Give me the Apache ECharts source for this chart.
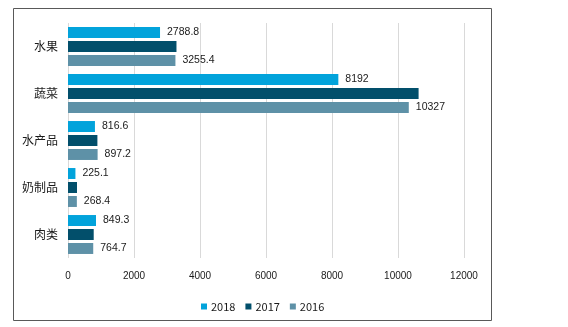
<!DOCTYPE html>
<html>
<head>
<meta charset="utf-8">
<script src="https://cdn.jsdelivr.net/npm/echarts@6/dist/echarts.min.js"></script>
<style>
  html, body { margin: 0; padding: 0; background: #fff; }
  #chart { width: 568px; height: 327px; }
</style>
</head>
<body>
<div id="chart"></div>
<script>
// Categories, top to bottom
const categories = ['水果', '蔬菜', '水产品', '奶制品', '肉类'];
// Yearly values per category
const values2018 = [2788.8, 8192, 816.6, 225.1, 849.3];
const values2017 = [3287, 10624, 891, 273, 779];
const values2016 = [3255.4, 10327, 897.2, 268.4, 764.7];
const seriesNames = ['2018', '2017', '2016'];
const xTicks = { min: 0, max: 12000, interval: 2000 };

const colors = ['#02A3DB', '#024F6B', '#5E91A7'];

const labelStyle = {
  show: true,
  position: 'right',
  distance: 7,
  color: '#1a1a1a',
  fontSize: 10.5,
  fontFamily: 'Liberation Sans'
};

const chart = echarts.init(document.getElementById('chart'), null, { renderer: 'canvas' });
chart.setOption({
  animation: false,
  backgroundColor: '#fff',
  color: colors,
  graphic: [{
    type: 'rect',
    shape: { x: 13.5, y: 8.5, width: 478, height: 312 },
    style: { fill: 'none', stroke: '#595959', lineWidth: 1 },
    silent: true,
    z: -1
  }],
  grid: { left: 68, right: 104, top: 23, bottom: 69, containLabel: false },
  legend: {
    data: seriesNames,
    left: 196,
    top: 296,
    icon: 'rect',
    itemWidth: 6,
    itemHeight: 6,
    itemGap: 10,
    textStyle: { color: '#1a1a1a', fontSize: 11, fontFamily: 'Noto Sans CJK SC', padding: [0, 0, 0, -1] }
  },
  xAxis: {
    type: 'value',
    min: xTicks.min,
    max: xTicks.max,
    interval: xTicks.interval,
    axisLine: { show: false },
    axisTick: { show: false },
    axisLabel: {
      color: '#1a1a1a', fontSize: 10, fontFamily: 'Liberation Sans', margin: 13,
      formatter: v => String(v)
    },
    splitLine: { show: true, lineStyle: { color: '#d9d9d9', width: 1 } }
  },
  yAxis: {
    type: 'category',
    data: categories,
    inverse: true,
    axisLine: { show: false },
    axisTick: { show: false },
    axisLabel: { color: '#1a1a1a', fontSize: 12, fontFamily: 'Noto Sans CJK SC', margin: 10 }
  },
  series: [
    { name: seriesNames[0], type: 'bar', data: values2018, barWidth: 11, barGap: '27%', label: labelStyle },
    { name: seriesNames[1], type: 'bar', data: values2017, barWidth: 11, barGap: '27%' },
    { name: seriesNames[2], type: 'bar', data: values2016, barWidth: 11, barGap: '27%', label: labelStyle }
  ]
});
</script>
</body>
</html>
